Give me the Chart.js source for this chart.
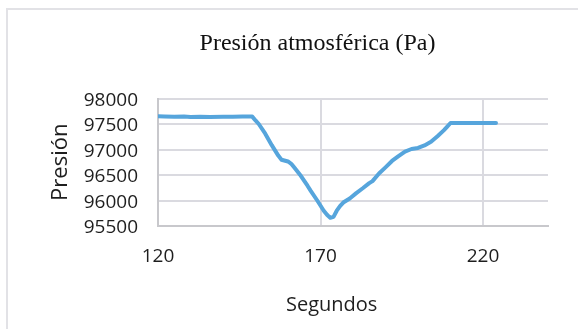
<!DOCTYPE html>
<html><head><meta charset="utf-8">
<script src="https://cdn.jsdelivr.net/npm/chart.js@4.4.1/dist/chart.umd.min.js"></script>
<style>
html,body{margin:0;padding:0;background:#fff;}
#wrap{position:relative;width:578px;height:329px;overflow:hidden;}
#frame{position:absolute;left:6px;top:8px;width:700px;height:400px;border:2px solid #e2e2e6;box-sizing:border-box;}
canvas{position:absolute;left:0;top:0;}
</style></head><body>
<div id="wrap"><div id="frame"></div><canvas id="c" width="578" height="329"></canvas></div>
<script>
const chartTitle = 'Presión atmosférica (Pa)';
const xAxisTitle = 'Segundos';
const yAxisTitle = 'Presión';
const seconds = [120,122,125,128,130,133,136,140,143,146,149,150,151,153,155,157,158,160,161,162,164,166,167,169,171,172,173,174,175,176,177,179,181,183,185,186,188,190,192,194,196,198,200,202,204,206,208,209,210,215,220,224];
const pressure = [97650,97645,97640,97645,97635,97640,97635,97640,97640,97645,97645,97570,97500,97310,97085,96880,96800,96765,96720,96640,96480,96290,96190,96000,95800,95720,95660,95680,95800,95890,95960,96040,96145,96240,96340,96380,96530,96650,96775,96870,96960,97010,97030,97080,97150,97260,97380,97450,97520,97520,97520,97520];
const xTicks = [120,170,220];
const yTicks = [95500,96000,96500,97000,97500,98000];

const xTitlePlugin = {
  id: 'xTitle',
  afterDraw(chart) {
    const ctx = chart.ctx;
    ctx.save();
    ctx.font = '20px "Open Sans"';
    ctx.fillStyle = '#1e1e1e';
    ctx.textAlign = 'center';
    ctx.textBaseline = 'middle';
    ctx.fillText(xAxisTitle, 331.7, 305);
    ctx.restore();
  }
};

new Chart(document.getElementById('c'), {
  type: 'line',
  data: {
    datasets: [{
      data: seconds.map((s, i) => ({x: s, y: pressure[i]})),
      borderColor: '#56a5dc',
      borderWidth: 4,
      pointRadius: 0,
      tension: 0,
      borderCapStyle: 'round',
      borderJoinStyle: 'round',
      fill: false,
      yAxisID: 'y'
    }]
  },
  options: {
    responsive: false,
    animation: false,
    devicePixelRatio: 1,
    layout: {padding: {left: 57, right: 0, top: 0, bottom: 0}},
    plugins: {
      legend: {display: false},
      tooltip: {enabled: false},
      title: {
        display: true,
        text: chartTitle,
        color: '#111',
        font: {family: '"Liberation Serif"', size: 24, weight: 'normal', lineHeight: 1.2},
        padding: {top: 29, bottom: 40.7}
      }
    },
    scales: {
      x: {
        type: 'linear',
        min: 120,
        max: 240,
        afterBuildTicks(scale) { scale.ticks = xTicks.map(v => ({value: v})); },
        afterFit(scale) { scale.height = 103; },
        grid: {color: '#dadae0', lineWidth: 2, drawTicks: false},
        border: {display: true, color: '#c8c8cc', width: 2},
        ticks: {color: '#1e1e1e', font: {family: '"Open Sans"', size: 19}, padding: 19, maxRotation: 0, autoSkip: false,
          callback: v => String(v)}
      },
      y: {
        position: 'left',
        min: 95500,
        max: 98000,
        afterBuildTicks(scale) { scale.ticks = yTicks.map(v => ({value: v})); },
        afterFit(scale) { scale.width = 158 - 57; },
        grid: {color: '#dadae0', lineWidth: 2, drawTicks: false},
        border: {display: true, color: '#c8c8cc', width: 2},
        ticks: {color: '#1e1e1e', font: {family: '"Open Sans"', size: 19}, padding: 20, autoSkip: false, labelOffset: 2,
          callback: v => String(v)},
        title: {
          display: true,
          text: yAxisTitle,
          color: '#1e1e1e',
          font: {family: '"Open Sans"', size: 22, lineHeight: 1.2},
          padding: {top: -9.4, bottom: 0}
        }
      },
      yRight: {
        position: 'right',
        display: true,
        afterFit(scale) { scale.width = 30; },
        grid: {display: false, drawTicks: false},
        border: {display: false},
        ticks: {display: false}
      }
    }
  },
  plugins: [xTitlePlugin]
});
</script>
</body></html>
